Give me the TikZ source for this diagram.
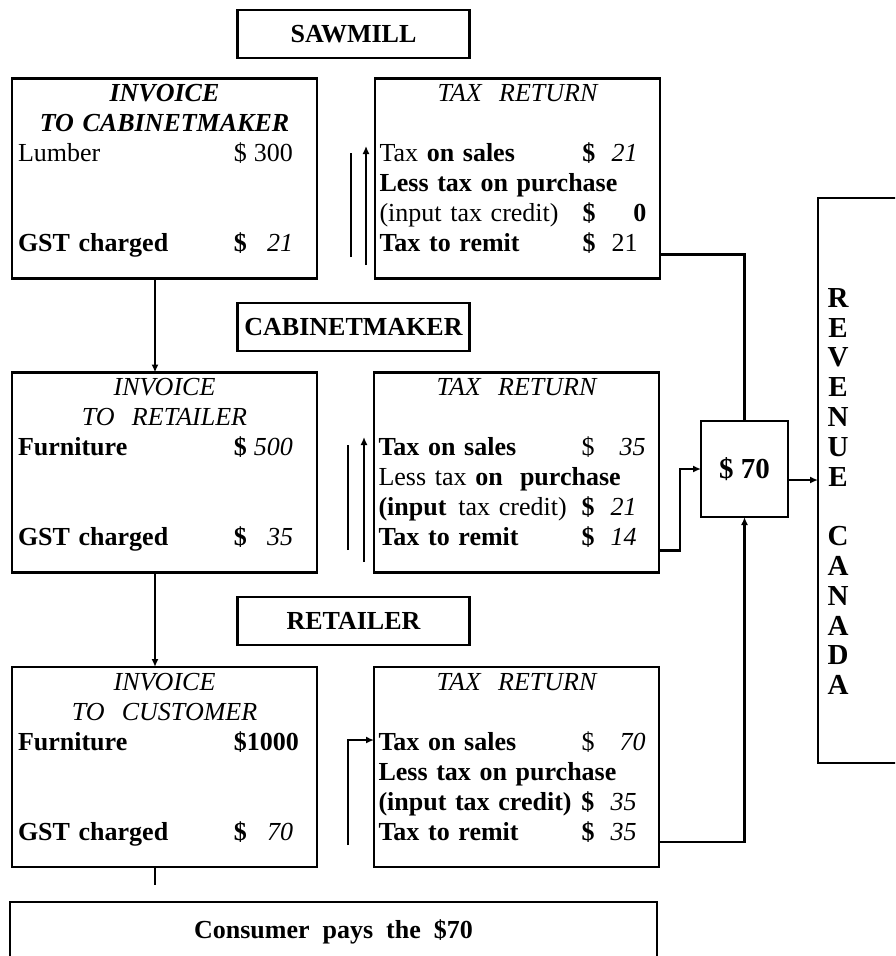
\documentclass[tikz,border=0pt]{standalone}
\usepackage{fontspec}
\setmainfont{Liberation Serif}
\usetikzlibrary{arrows.meta, positioning}

% montant : signe a gauche, chiffres a droite
\newcommand{\amt}[3][55pt]{\hskip 0pt plus 1filll\makebox[#1][l]{#2\hfill#3}\kern18pt\null}
\newcommand{\ctr}[1]{\makebox[\linewidth]{#1}}

\begin{document}
\begin{tikzpicture}[
        x=1pt, y=-1pt,
        % Cadres
        frame/.style={draw, line width=2.4pt, inner sep=0pt, outer sep=0pt},
        header/.style={frame, minimum width=232pt, minimum height=48pt, font=\fontsize{26}{30}\selectfont\bfseries},
        invbox/.style={frame, minimum width=305pt, minimum height=200pt},
        taxbox/.style={frame, minimum width=285pt, minimum height=200pt},
        % Textes des cadres
        boxtext/.style={anchor=north, inner sep=0pt, align=left, font=\fontsize{26}{30}\selectfont},
        invtext/.style={boxtext, text width=293pt},
        taxtext/.style={boxtext, text width=276pt},
        % Fleches
        link/.style={line width=2.2pt},
        arrow/.style={link, -{Latex[length=8pt, width=7pt]}}
    ]
    \path[use as bounding box, fill=white] (0,0) rectangle (895,956);
    \clip (0,0) rectangle (895,956);

    % --- SAWMILL ---
    \node[header] (saw) at (353.5,34) {SAWMILL};
    \node[invbox] (inv1) at (164.5,178.5) {};
    \node[taxbox, right=58pt of inv1] (tr1) {};
    \node[invtext] (inv1t) at ([yshift=-2pt]inv1.north) {\ctr{\strut\bfseries\itshape INVOICE}\\
        \ctr{\bfseries\itshape TO CABINETMAKER}\\
        Lumber\amt[59pt]{\$}{300}\\[60pt]
        \textbf{GST charged}\amt[59pt]{\textbf{\$}}{\textit{21}}};
    \node[taxtext] (tr1t) at ([yshift=-2pt]tr1.north) {\ctr{\strut\itshape TAX\ \ RETURN}\\[30pt]
        Tax \textbf{on sales}\amt{\textbf{\$}}{\textit{21}}\\
        \textbf{Less tax on purchase}\\
        (input tax credit)\amt{\textbf{\$}}{\textbf{0}\kern-9pt}\\
        \textbf{Tax to remit}\amt{\textbf{\$}}{21}};

    % --- CABINETMAKER ---
    \node[header, below=245pt of saw] (cab) {CABINETMAKER};
    \node[invbox, below=94pt of inv1] (inv2) {};
    \node[taxbox, right=57pt of inv2] (tr2) {};
    \node[invtext] (inv2t) at ([yshift=-2pt]inv2.north) {\ctr{\strut\itshape INVOICE}\\
        \ctr{\itshape TO\ \ RETAILER}\\
        \textbf{Furniture}\amt[59pt]{\textbf{\$}}{\textit{500}}\\[60pt]
        \textbf{GST charged}\amt[59pt]{\textbf{\$}}{\textit{35}}};
    \node[taxtext] (tr2t) at ([yshift=-2pt]tr2.north) {\ctr{\strut\itshape TAX\ \ RETURN}\\[30pt]
        \textbf{Tax on sales}\amt{\$}{\textit{35}\kern-9pt}\\
        Less tax \textbf{on\ \ purchase}\\
        \textbf{(input}\hspace{12pt}tax credit)\amt{\textbf{\$}}{\textit{21}}\\
        \textbf{Tax to remit}\amt{\textbf{\$}}{\textit{14}}};

    % --- RETAILER ---
    \node[header, below=246pt of cab] (ret) {RETAILER};
    \node[invbox, below=94.5pt of inv2] (inv3) {};
    \node[taxbox, right=57pt of inv3] (tr3) {};
    \node[invtext] (inv3t) at ([yshift=-2pt]inv3.north) {\ctr{\strut\itshape INVOICE}\\
        \ctr{\itshape TO\ \ CUSTOMER}\\
        \textbf{Furniture}\amt[59pt]{}{\textbf{\$1000}}\\[60pt]
        \textbf{GST charged}\amt[59pt]{\textbf{\$}}{\textit{70}}};
    \node[taxtext] (tr3t) at ([yshift=-2pt]tr3.north) {\ctr{\strut\itshape TAX\ \ RETURN}\\[30pt]
        \textbf{Tax on sales}\amt{\$}{\textit{70}\kern-9pt}\\
        \textbf{Less tax on purchase}\\
        \textbf{(input tax credit)}\amt{\textbf{\$}}{\textit{35}}\\
        \textbf{Tax to remit}\amt{\textbf{\$}}{\textit{35}}};

    % --- TOTAL ET REVENUE CANADA ---
    \node[frame, minimum width=87pt, minimum height=96pt, font=\fontsize{29}{30}\selectfont\bfseries] (s70) at (744.5,469) {\$ 70};
    \node[frame, minimum width=100pt, minimum height=565pt] (rev) at (868,480.5) {};
    \node[align=center, inner sep=0pt, font=\fontsize{29}{29.8}\selectfont\bfseries] (revt) at (838,491.5)
        {R\\E\\V\\E\\N\\U\\E\\[29.8pt]C\\A\\N\\A\\D\\A};

    % --- CONSOMMATEUR ---
    \node[frame, minimum width=647pt, minimum height=60pt, font=\fontsize{26}{30}\selectfont\bfseries] (cons) at (333.5,932)
        {Consumer\ \ pays\ \ the\ \ \$70};

    % --- FLECHES ---
    \draw[arrow] ([xshift=-9.5pt]inv1.south) -- ([xshift=-9.5pt]inv2.north);
    \draw[arrow] ([xshift=-9.5pt]inv2.south) -- ([xshift=-9.5pt]inv3.north);
    \draw[link, shorten >=17pt] ([xshift=-9.5pt]inv3.south) -- ([xshift=-9.5pt]inv3.south |- cons.north);

    \coordinate (in1a) at (351,257);
    \coordinate (in1b) at (366,265);
    \draw[link] (in1a) -- ++(0,-104);
    \draw[arrow, line width=1.4pt] (in1b) -- ++(0,-119);
    \coordinate (in2a) at (348,550);
    \coordinate (in2b) at (364,562);
    \draw[link] (in2a) -- ++(0,-105);
    \draw[arrow, line width=1.4pt] (in2b) -- ++(0,-125);
    \coordinate (in3) at (348,845);
    \draw[arrow] (in3) |- ([yshift=-73pt]tr3.north west);

    \draw[link] ([yshift=24pt]tr1.south east) -| (s70.north);
    \draw[arrow] ([yshift=22pt]tr2.south east) -- ++(21,0) |- (s70.west);
    \draw[arrow] ([yshift=25pt]tr3.south east) -| (s70.south);
    \draw[arrow] ([yshift=-11pt]s70.east) -- ([yshift=-11pt]s70.east -| rev.west);

\end{tikzpicture}
\end{document}
